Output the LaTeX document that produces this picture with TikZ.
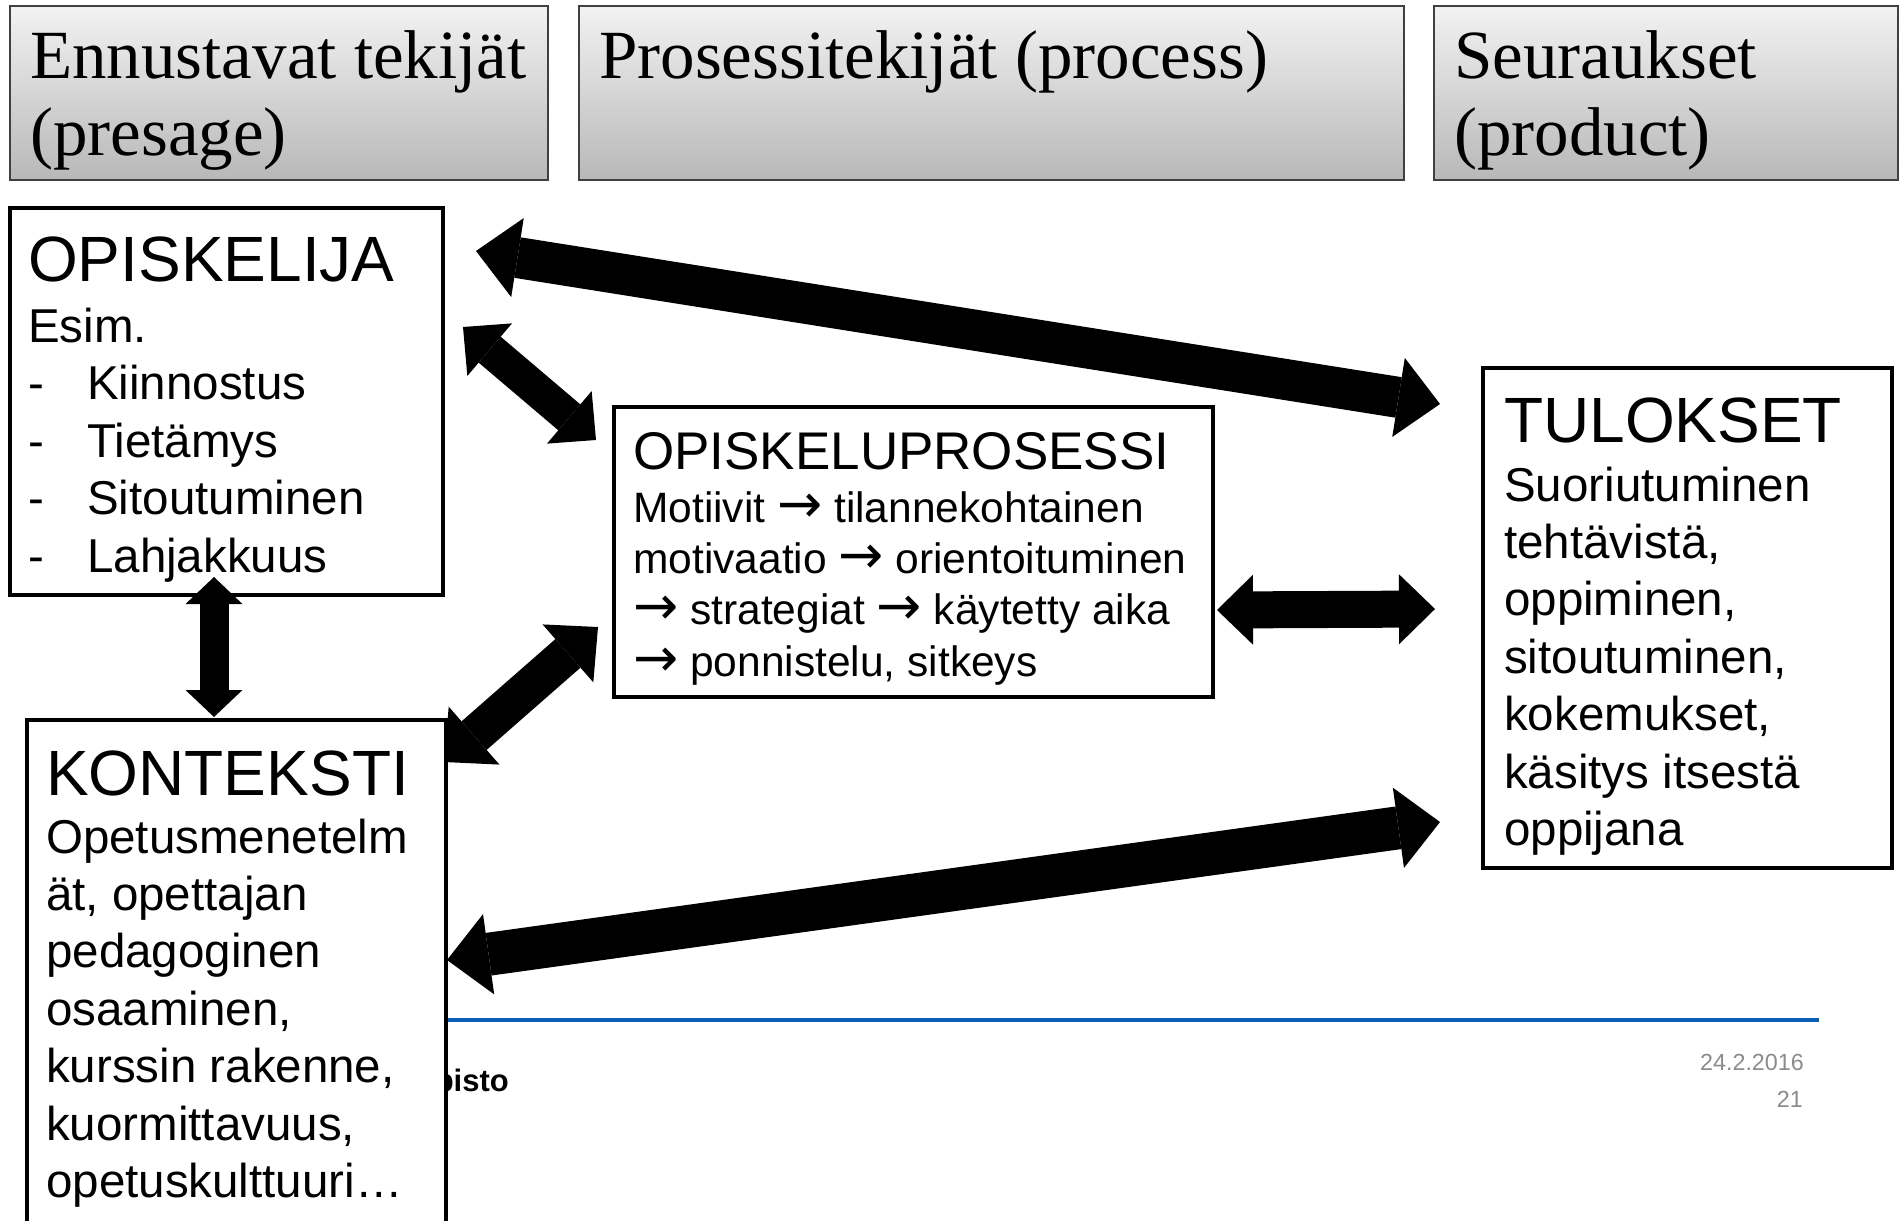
\documentclass[tikz,border=0pt]{standalone}
\usepackage{fontspec}
\setmainfont{Liberation Serif}
\setsansfont{Liberation Sans}
\newfontfamily\arrowfont{DejaVu Sans}
\usepackage{tikz}
\usetikzlibrary{arrows.meta}
\usepackage{xcolor}
\definecolor{Hedge}{RGB}{64,64,64}
\definecolor{Htop}{RGB}{242,242,242}
\definecolor{Hbot}{RGB}{184,184,184}
\definecolor{Lblue}{RGB}{8,94,180}
\definecolor{Dgray}{RGB}{140,140,140}
\newcommand{\rarr}{{\arrowfont\fontsize{54}{51}\selectfont →}}

\begin{document}
\begin{tikzpicture}[x=1pt,y=-1pt,
  hdr/.style={draw=Hedge, line width=1.6pt, top color=Htop, bottom color=Hbot,
    outer sep=0pt, inner sep=0pt, anchor=north west},
  hdrtxt/.style={anchor=base west, inner sep=0pt, font=\fontsize{69}{76}\selectfont},
  box/.style={draw=black, line width=4.5pt, fill=white, outer sep=0pt,
    inner sep=0pt, anchor=north west},
  titletxt/.style={anchor=base west, inner sep=0pt, font=\sffamily\fontsize{64}{74}\selectfont},
  bodytxt/.style={anchor=base west, inner sep=0pt, font=\sffamily\fontsize{47.5}{57.5}\selectfont},
  proctitle/.style={titletxt, font=\sffamily\fontsize{53}{60}\selectfont},
  proctxt/.style={anchor=base west, inner sep=0pt, font=\sffamily\fontsize{42.5}{51}\selectfont},
  datetxt/.style={anchor=base east, inner sep=0pt, text=Dgray, font=\sffamily\fontsize{23.3}{28}\selectfont},
  blockarrow/.style n args={3}{line width=#1,
    {Triangle[width=#2,length=#3,line width=0pt]}-{Triangle[width=#2,length=#3,line width=0pt]}}
]
  \useasboundingbox (0,0) rectangle (1902,1220);
  \fill[white] (0,0) rectangle (1902,1220);
  \clip (0,0) rectangle (1902,1220);

  % ------------------------------------------------
  % header row (presage / process / product)
  % ------------------------------------------------
  \node[hdr, minimum width=538pt, minimum height=174pt] (presage) at (10,6) {};
  \node[hdr, minimum width=825pt, minimum height=174pt] (process) at (579,6) {};
  \node[hdr, minimum width=464pt, minimum height=174pt] (product) at (1434,6) {};

  \node[hdrtxt] (presageA) at (30,79) {Ennustavat tekijät};
  \node[hdrtxt] (presageB) at (30,155) {(presage)};
  \node[hdrtxt] (processA) at (599,79) {Prosessitekijät (process)};
  \node[hdrtxt] (productA) at (1454,79) {Seuraukset};
  \node[hdrtxt] (productB) at (1454,155) {(product)};

  % ------------------------------------------------
  % footer (behind the KONTEKSTI box)
  % ------------------------------------------------
  \coordinate (blueL) at (446,1020);
  \coordinate (blueR) at (1819,1020);
  \draw[Lblue, line width=4pt] (blueL) -- (blueR);
  \node[anchor=base east, inner sep=0pt, font=\sffamily\bfseries\fontsize{31}{36}\selectfont]
    (logo) at (509,1091) {pisto};
  \node[datetxt] (date) at (1804,1070) {24.2.2016};
  \node[datetxt] (page) at (1803,1107) {21};

  % ------------------------------------------------
  % content boxes
  % ------------------------------------------------
  \node[box, minimum width=433pt, minimum height=387pt] (opiskelija) at (10,208) {};
  \node[box, minimum width=599pt, minimum height=290pt] (prosessi) at (614,407) {};
  \node[box, minimum width=409pt, minimum height=500pt] (tulokset) at (1483,368) {};
  \node[box, minimum width=419pt, minimum height=560pt] (konteksti) at (27,720) {};

  % OPISKELIJA
  \node[titletxt] (opi-title) at (28,281) {OPISKELIJA};
  \node[bodytxt] (opi-esim) at (28,342) {Esim.};
  \foreach \txt [count=\i from 1] in {Kiinnostus, Tietämys, Sitoutuminen, Lahjakkuus} {
    \node[bodytxt] (opi-dash-\i) at (28,342+57.5*\i) {-};
    \node[bodytxt] (opi-item-\i) at (87,342+57.5*\i) {\txt};
  }

  % OPISKELUPROSESSI
  \node[proctitle] (pro-title) at (633,469) {OPISKELUPROSESSI};
  \foreach \txt [count=\i from 0] in {Motiivit \rarr{} tilannekohtainen,
      motivaatio \rarr{} orientoituminen, \rarr{} strategiat \rarr{} käytetty aika,
      {\rarr{} ponnistelu, sitkeys}}
    \node[proctxt] (pro-line-\i) at (633,522+51.4*\i) {\txt};

  % TULOKSET
  \node[titletxt] (tul-title) at (1504,442) {TULOKSET};
  \foreach \txt [count=\i from 0] in {Suoriutuminen, {tehtävistä,}, {oppiminen,},
      {sitoutuminen,}, {kokemukset,}, käsitys itsestä, oppijana}
    \node[bodytxt] (tul-line-\i) at (1504,501+57.4*\i) {\txt};

  % KONTEKSTI
  \node[titletxt] (kon-title) at (46,795) {KONTEKSTI};
  \foreach \txt [count=\i from 0] in {Opetusmenetelm, {ät, opettajan}, pedagoginen,
      {osaaminen,}, {kurssin rakenne,}, {kuormittavuus,}, opetuskulttuuri…}
    \node[bodytxt] (kon-line-\i) at (46,853+57.4*\i) {\txt};

  % ------------------------------------------------
  % block arrows
  % ------------------------------------------------
  \coordinate (opiTulA) at (476,251);
  \coordinate (opiTulB) at (1440,404);
  \coordinate (opiProA) at (463,327);
  \coordinate (opiProB) at (596,440);
  \coordinate (opiKonA) at (214,577);
  \coordinate (opiKonB) at (214,717);
  \coordinate (konProA) at (444,762);
  \coordinate (konProB) at (598,627);
  \coordinate (proTulA) at (1217,610);
  \coordinate (proTulB) at (1435,609);
  \coordinate (konTulA) at (447,960);
  \coordinate (konTulB) at (1440,822);

  \draw[blockarrow={41pt}{80pt}{42pt}] (opiTulA) -- (opiTulB);
  \draw[blockarrow={34pt}{69pt}{35pt}] (opiProA) -- (opiProB);
  \draw[blockarrow={29pt}{57pt}{27pt}] (opiKonA) -- (opiKonB);
  \draw[blockarrow={38pt}{77pt}{40pt}] (konProA) -- (konProB);
  \draw[blockarrow={37pt}{70pt}{36pt}] (proTulA) -- (proTulB);
  \draw[blockarrow={43pt}{81pt}{42pt}] (konTulA) -- (konTulB);
\end{tikzpicture}
\end{document}
